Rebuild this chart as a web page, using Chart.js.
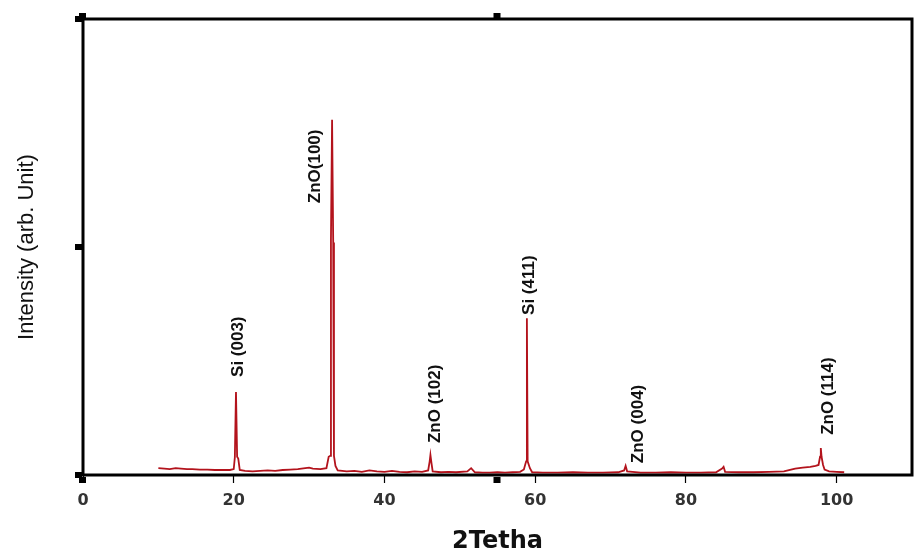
<!DOCTYPE html>
<html>
<head>
<meta charset="utf-8">
<script src="https://cdn.jsdelivr.net/npm/chart.js@4/dist/chart.umd.min.js"></script>
<style>
  html, body { margin: 0; padding: 0; background: #fff; }
  #wrap { width: 914px; height: 554px; }
</style>
</head>
<body>
<div id="wrap"><canvas id="xrdChart" width="914" height="554"></canvas></div>
<script>
// XRD scan (2-theta in degrees, intensity in arbitrary units 0..100)
const twoTheta = [
  10.0, 10.8, 11.5, 12.3, 13.0, 13.8, 14.5, 15.5, 16.5, 17.5, 18.5, 19.5,
  20.0, 20.15, 20.3, 20.45, 20.6, 20.8, 21.5, 22.5, 23.5, 24.5, 25.5, 26.5,
  27.5, 28.5, 29.5, 30.0, 30.5, 31.5, 32.3, 32.6, 32.8, 32.9, 33.05, 33.2,
  33.3, 33.5, 33.8, 35, 36, 37, 38, 39, 40, 41, 42, 43, 44, 45, 45.8, 46.0,
  46.1, 46.25, 46.4, 47.5, 48.5, 49.5, 51, 51.5, 52, 53, 54, 55, 56, 57, 58,
  58.5, 58.8, 58.9, 59.0, 59.3, 59.6, 61, 63, 65, 67, 69, 71, 71.8, 72.0,
  72.2, 74, 76, 78, 80, 82, 84, 84.8, 85.0, 85.2, 87, 89, 91, 93, 94.5, 95.5,
  96.5, 97.2, 97.6, 97.8, 97.9, 98.0, 98.2, 98.4, 99, 100, 101
];
const intensity = [
  1.5, 1.4, 1.3, 1.5, 1.4, 1.3, 1.3, 1.2, 1.2, 1.1, 1.1, 1.1,
  1.3, 3.9, 18.2, 4.0, 3.6, 1.1, 0.9, 0.8, 0.9, 1.0, 0.9, 1.1,
  1.2, 1.3, 1.5, 1.6, 1.4, 1.3, 1.5, 4.0, 4.2, 51.5, 77.9, 51.0,
  4.2, 2.0, 1.0, 0.8, 0.9, 0.7, 1.0, 0.8, 0.7, 0.9, 0.7, 0.6, 0.8, 0.7, 1.0, 3.0,
  4.4, 2.5, 0.8, 0.6, 0.7, 0.6, 0.8, 1.5, 0.6, 0.5, 0.5, 0.6, 0.5, 0.6, 0.7,
  1.2, 3.0, 34.4, 3.0, 1.5, 0.6, 0.5, 0.5, 0.6, 0.5, 0.5, 0.6, 1.0, 2.0,
  0.8, 0.5, 0.5, 0.6, 0.5, 0.5, 0.6, 1.4, 1.8, 0.7, 0.6, 0.6, 0.7, 0.8, 1.4, 1.6,
  1.8, 2.0, 2.2, 4.0, 5.9, 4.0, 2.2, 1.2, 0.8, 0.7, 0.6
];

// peak labels: text, 2-theta of label centre, intensity where the text starts
const peakNames = ['Si (003)', 'ZnO(100)', 'ZnO (102)', 'Si (411)', 'ZnO (004)', 'ZnO (114)'];
const peakLabelX = [20.5, 30.7, 46.6, 59.1, 73.6, 98.7];
const peakLabelY = [21.5, 59.6, 7.0, 35.1, 2.6, 8.8];

// x tick labels and the odd square marks on the frame
const xTicks = [0, 20, 40, 60, 80, 100];
const squareX = [0, 55];
const squareY = [0, 50, 100];

const frame = {
  id: 'frame',
  afterDatasetsDraw(chart) {
    const { ctx, chartArea: a, scales } = chart;
    ctx.save();
    ctx.strokeStyle = '#000';
    ctx.lineWidth = 3;
    ctx.strokeRect(a.left, a.top, a.right - a.left, a.bottom - a.top);
    ctx.fillStyle = '#000';
    squareX.forEach(v => {
      const px = scales.x.getPixelForValue(v);
      ctx.fillRect(px - 4, a.bottom + 2, 7, 6);
      ctx.fillRect(px - 4, a.top - 6, 7, 5);
    });
    squareY.forEach(v => {
      const py = scales.y.getPixelForValue(v);
      ctx.fillRect(a.left - 8, py - 3, 7, 6);
    });

    // rotated peak labels
    ctx.fillStyle = '#111';
    ctx.font = 'bold 17px "Liberation Sans", Arial, sans-serif';
    ctx.textAlign = 'left';
    ctx.textBaseline = 'middle';
    peakNames.forEach((name, i) => {
      const px = scales.x.getPixelForValue(peakLabelX[i]);
      const py = scales.y.getPixelForValue(peakLabelY[i]);
      ctx.save();
      ctx.translate(px, py);
      ctx.rotate(-Math.PI / 2);
      ctx.fillText(name, 0, 1);
      ctx.restore();
    });
    ctx.restore();
  }
};

const ctx = document.getElementById('xrdChart').getContext('2d');
new Chart(ctx, {
  type: 'line',
  data: {
    datasets: [{
      data: twoTheta.map((t, i) => ({ x: t, y: intensity[i] })),
      borderColor: '#b3131c',
      borderWidth: 1.8,
      pointRadius: 0,
      tension: 0,
      fill: false
    }]
  },
  options: {
    responsive: false,
    animation: false,
    layout: { padding: { top: 19, right: 2, left: 0, bottom: 0 } },
    plugins: {
      legend: { display: false },
      tooltip: { enabled: false }
    },
    scales: {
      x: {
        type: 'linear',
        min: 0,
        max: 110,
        afterFit(scale) { scale.height = 79; },
        afterBuildTicks(scale) { scale.ticks = xTicks.map(v => ({ value: v })); },
        border: { display: false },
        grid: {
          drawOnChartArea: false,
          drawTicks: true,
          tickLength: 8,
          tickWidth: 1.2,
          tickColor: '#000'
        },
        ticks: {
          padding: 8,
          color: '#333',
          font: { family: '"DejaVu Sans", Verdana, sans-serif', size: 16, weight: 'bold' },
          maxRotation: 0
        },
        title: {
          display: true,
          text: '2Tetha',
          color: '#111',
          font: { family: '"DejaVu Sans", Verdana, sans-serif', size: 24, weight: 'bold', lineHeight: 1.0 },
          padding: { top: 0, bottom: 0 }
        }
      },
      y: {
        min: 0,
        max: 100,
        afterFit(scale) { scale.width = 83; },
        border: { display: false },
        grid: { display: false },
        ticks: { display: false },
        title: {
          display: true,
          text: 'Intensity (arb. Unit)',
          color: '#111',
          font: { family: '"Liberation Sans", Arial, sans-serif', size: 22 },
          padding: { top: 14, bottom: 0 }
        }
      }
    }
  },
  plugins: [frame]
});
</script>
</body>
</html>
